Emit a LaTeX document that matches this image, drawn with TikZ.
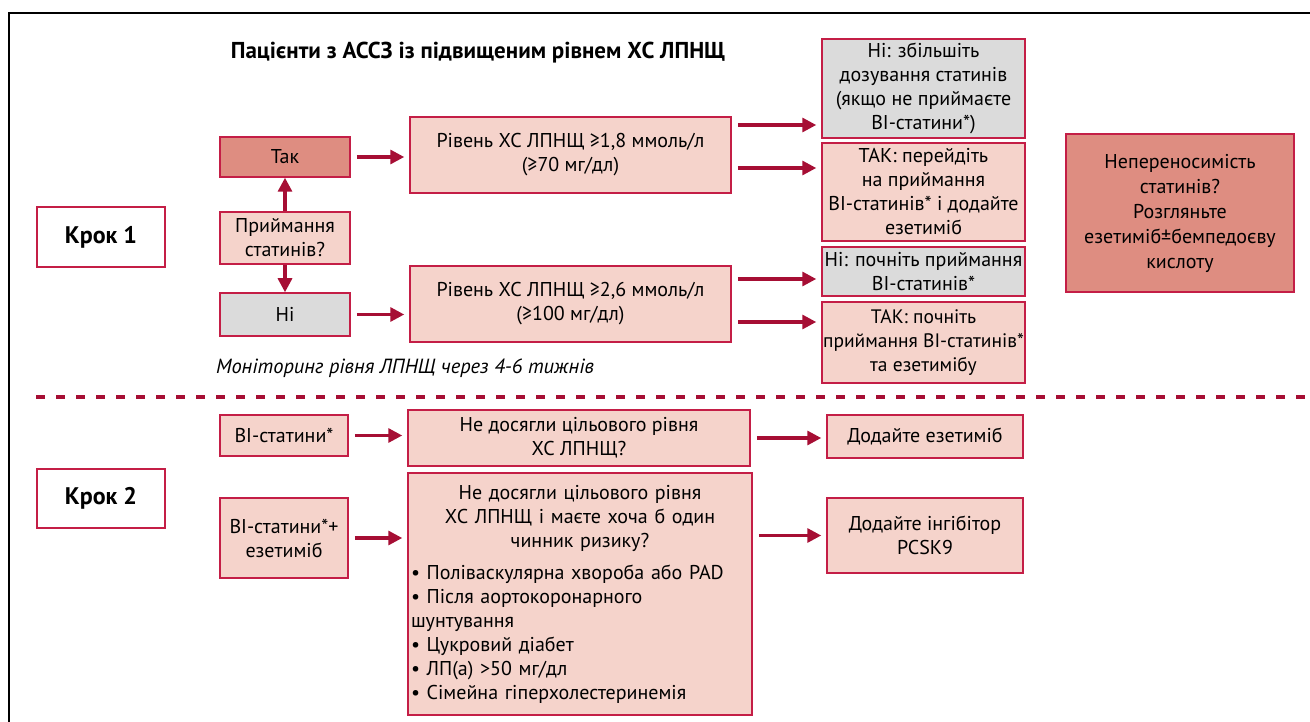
\documentclass[tikz,border=0pt]{standalone}
\usepackage{fontspec}
\setmainfont{PT Sans}
\usepackage{tikz}
\usetikzlibrary{arrows.meta,positioning,calc}
\definecolor{rimred}{RGB}{196,30,70}
\definecolor{arrred}{RGB}{166,14,52}
\definecolor{pinkfill}{RGB}{245,211,203}
\definecolor{salmonfill}{RGB}{222,141,129}
\definecolor{greyfill}{RGB}{219,219,219}

\begin{document}
\begin{tikzpicture}[x=1pt, y=-1pt,
    box/.style={draw=rimred, line width=1.5pt, fill=pinkfill, align=center,
                inner xsep=1pt, inner ysep=2pt, font=\fontsize{20}{24}\selectfont},
    yesbox/.style={box, fill=salmonfill},
    nobox/.style={box, fill=greyfill},
    krok/.style={box, fill=white, font=\fontsize{24}{28}\selectfont\bfseries},
    arr/.style={-{Triangle[length=14pt,width=14pt]}, line width=3.2pt, draw=arrred},
    harr/.style={arr, shorten <=6pt, shorten >=5pt}]
  \useasboundingbox (0,0) rectangle (1310,722);
  \draw[line width=1.5pt] (9,722) -- (9,13) -- (1310,13);

  % Krok 1
  \node[font=\fontsize{23}{26}\selectfont\bfseries] (title) at (478,53)
    {Пацієнти з АССЗ із підвищеним рівнем ХС ЛПНЩ};
  \node[krok, minimum width=128pt, minimum height=60pt] (krokA) at (101,237) {Крок 1};
  \node[yesbox, minimum width=130pt, minimum height=40pt] (tak) at (285,157) {Так};
  \node[box, minimum width=130pt, minimum height=52pt] (pryim) at (285,238) {Приймання\\статинів?};
  \node[nobox, minimum width=130pt, minimum height=43pt] (ni) at (285,314.5) {Ні};
  \node[box, minimum width=321pt, minimum height=76pt] (lvlA) at (570.5,155)
    {Рівень ХС ЛПНЩ ≥1,8 ммоль/л\\(≥70 мг/дл)};
  \node[box, minimum width=321pt, minimum height=76pt] (lvlB) at (570.5,304)
    {Рівень ХС ЛПНЩ ≥2,6 ммоль/л\\(≥100 мг/дл)};
  \node[nobox, minimum width=203pt, minimum height=99pt] (rA) at (923.5,88.5)
    {Ні: збільшіть\\дозування статинів\\(якщо не приймаєте\\ВІ-статини*)};
  \node[box, minimum width=203pt, minimum height=98pt] (rB) at (923.5,192)
    {ТАК: перейдіть\\на приймання\\ВІ-статинів* і додайте\\езетиміб};
  \node[nobox, minimum width=203pt, minimum height=49pt] (rC) at (923.5,271.5)
    {Ні: почніть приймання\\ВІ-статинів*};
  \node[box, minimum width=203pt, minimum height=81pt, font=\fontsize{19.5}{24}\selectfont] (rD) at (923.5,342.5)
    {ТАК: почніть\\приймання ВІ-статинів*\\та езетимібу};
  \node[yesbox, minimum width=228pt, minimum height=158pt, font=\fontsize{20}{25}\selectfont] (intol) at (1180,213)
    {Непереносимість\\статинів?\\Розгляньте\\езетиміб±бемпедоєву\\кислоту};
  \node[font=\fontsize{20.5}{24}\selectfont\itshape] (monit) at (405,368)
    {Моніторинг рівня ЛПНЩ через 4-6 тижнів};

  \draw[arr] (pryim.north) -- (tak.south);
  \draw[arr] (pryim.south) -- (ni.north);
  \draw[harr] (tak.east) -- (tak.east -| lvlA.west);
  \draw[harr] (ni.east) -- (ni.east -| lvlB.west);
  \draw[harr] ([yshift=30pt]lvlA.east) -- ([yshift=30pt]lvlA.east -| rA.west);
  \draw[harr] ([yshift=-13pt]lvlA.east) -- ([yshift=-13pt]lvlA.east -| rB.west);
  \draw[harr] ([yshift=25pt]lvlB.east) -- ([yshift=25pt]lvlB.east -| rC.west);
  \draw[harr] ([yshift=-18pt]lvlB.east) -- ([yshift=-18pt]lvlB.east -| rD.west);

  % separator
  \draw[draw=arrred, line width=4.5pt, dash pattern=on 9pt off 11pt] (36,397) -- (1310,397);

  % Krok 2
  \node[krok, minimum width=128pt, minimum height=59pt] (krokB) at (101,498.5) {Крок 2};
  \node[box, minimum width=128pt, minimum height=41pt] (vi) at (284,435.5) {ВІ-статини*};
  \node[box, minimum width=128pt, minimum height=80pt] (viez) at (284,538) {ВІ-статини*+\\езетиміб};
  \node[box, minimum width=342pt, minimum height=56pt] (ndA) at (579,438)
    {Не досягли цільового рівня\\ХС ЛПНЩ?};
  \node[box, minimum width=344pt, minimum height=242pt, text width=338pt, align=left] (ndB) at (580,594)
    {{\centering Не досягли цільового рівня\\ХС ЛПНЩ і маєте хоча б один\\чинник ризику?\par}
     \vspace{8pt}\raggedright
     • Полі{}васкулярна хвороба або PAD\\
     • Після аортокоронарного\\шунтування\\
     • Цукровий діабет\\
     • ЛП(а) >50 мг/дл\\
     • Сімейна гіперхолестеринемія};
  \node[box, minimum width=196pt, minimum height=43pt] (dez) at (925,436.5) {Додайте езетиміб};
  \node[box, minimum width=196pt, minimum height=75pt] (dpcsk) at (925,535.5) {Додайте інгібітор\\PCSK9};

  \draw[harr] (vi.east) -- (vi.east -| ndA.west);
  \draw[harr] (viez.east) -- (viez.east -| ndB.west);
  \draw[harr] (ndA.east) -- (ndA.east -| dez.west);
  \draw[harr] (dpcsk.west -| ndB.east) -- (dpcsk.west);
\end{tikzpicture}
\end{document}
